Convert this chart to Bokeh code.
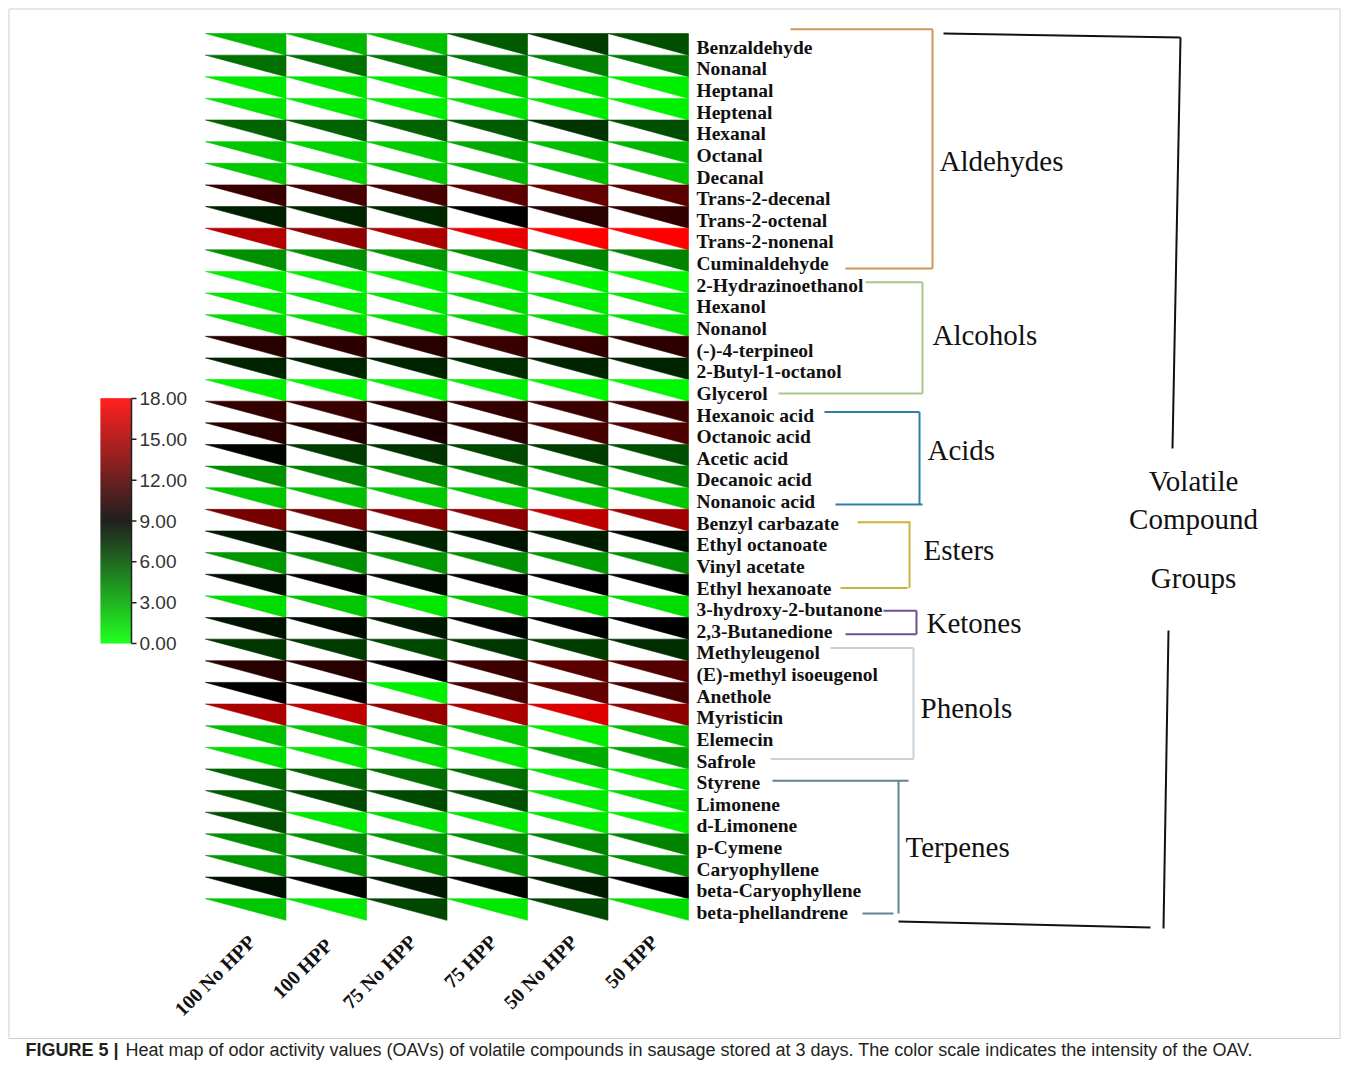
import numpy as np
from bokeh.plotting import figure
from bokeh.models import Range1d, ColumnDataSource, LinearColorMapper
from bokeh.core.properties import value
from bokeh.embed import file_html
from bokeh.resources import INLINE

# ---------------- data ----------------
samples = ["100 No HPP", "100  HPP", "75 No HPP", "75 HPP", "50 No HPP", "50 HPP"]

groups = ["Aldehydes", "Alcohols", "Acids", "Esters", "Ketones", "Phenols", "Terpenes"]

aldehydes = ["Benzaldehyde", "Nonanal", "Heptanal", "Heptenal", "Hexanal", "Octanal",
             "Decanal", "Trans-2-decenal", "Trans-2-octenal", "Trans-2-nonenal", "Cuminaldehyde"]
alcohols = ["2-Hydrazinoethanol", "Hexanol", "Nonanol", "(-)-4-terpineol",
            "2-Butyl-1-octanol", "Glycerol"]
acids = ["Hexanoic acid", "Octanoic acid", "Acetic acid", "Decanoic acid", "Nonanoic acid"]
esters = ["Benzyl carbazate", "Ethyl octanoate", "Vinyl acetate", "Ethyl hexanoate"]
ketones = ["3-hydroxy-2-butanone", "2,3-Butanedione"]
phenols = ["Methyleugenol", "(E)-methyl isoeugenol", "Anethole", "Myristicin",
           "Elemecin", "Safrole"]
terpenes = ["Styrene", "Limonene", "d-Limonene", "p-Cymene", "Caryophyllene",
            "beta-Caryophyllene", "beta-phellandrene"]

oav_aldehydes = [
    [2.6, 2.6, 2.3, 5.8, 6.9, 6.2],
    [5.0, 5.0, 4.8, 4.8, 4.5, 4.8],
    [0.8, 1.0, 0.8, 1.5, 1.2, 0.6],
    [1.0, 0.8, 0.6, 1.0, 0.8, 0.5],
    [5.5, 5.5, 5.5, 5.8, 7.2, 6.2],
    [2.0, 1.6, 1.8, 3.0, 2.3, 2.6],
    [2.0, 1.5, 2.0, 2.5, 2.2, 2.0],
    [11.0, 11.5, 11.5, 12.2, 12.5, 12.2],
    [7.9, 7.8, 7.6, 9.0, 10.4, 10.8],
    [15.3, 14.0, 15.0, 17.1, 18.0, 18.0],
    [4.0, 4.0, 3.7, 4.0, 4.4, 4.4],
]
oav_alcohols = [
    [0.5, 0.5, 0.5, 0.6, 0.5, 0.3],
    [0.8, 0.8, 0.8, 1.2, 0.9, 0.8],
    [1.2, 1.0, 1.0, 1.4, 1.2, 1.0],
    [10.4, 10.6, 10.4, 11.0, 10.8, 10.6],
    [7.8, 7.8, 7.8, 7.4, 7.8, 7.8],
    [0.5, 0.4, 0.5, 0.6, 0.4, 0.3],
]
oav_acids = [
    [10.8, 11.0, 10.4, 10.8, 11.1, 11.1],
    [10.4, 10.2, 9.9, 10.4, 11.5, 11.8],
    [8.8, 6.9, 7.2, 6.5, 6.9, 6.2],
    [4.0, 4.4, 4.0, 4.4, 4.0, 4.4],
    [2.0, 2.3, 2.0, 2.0, 2.3, 2.0],
]
oav_esters = [
    [13.2, 12.9, 13.6, 13.9, 15.7, 14.6],
    [8.1, 8.3, 7.8, 8.3, 8.0, 8.6],
    [3.7, 4.0, 3.7, 4.0, 3.7, 4.0],
    [8.5, 9.2, 8.6, 9.2, 9.0, 9.0],
]
oav_ketones = [
    [1.2, 2.0, 0.9, 2.0, 1.2, 1.2],
    [8.3, 8.6, 8.1, 8.8, 9.0, 9.0],
]
oav_phenols = [
    [7.1, 6.9, 6.5, 7.1, 6.9, 7.4],
    [10.4, 10.4, 9.2, 11.1, 12.2, 12.0],
    [9.0, 9.2, 0.5, 11.5, 12.5, 11.5],
    [15.0, 15.7, 14.3, 15.0, 16.8, 14.0],
    [2.3, 2.0, 2.3, 2.0, 0.7, 2.3],
    [1.2, 0.9, 1.2, 0.9, 3.0, 3.2],
]
oav_terpenes = [
    [5.5, 5.5, 5.1, 5.1, 0.9, 0.9],
    [5.8, 6.5, 6.4, 6.2, 0.9, 1.2],
    [6.2, 0.9, 1.2, 0.9, 0.9, 0.5],
    [4.0, 4.0, 3.7, 4.0, 4.4, 4.4],
    [3.7, 3.7, 3.7, 3.7, 4.4, 4.0],
    [8.5, 8.8, 8.1, 8.8, 8.0, 9.0],
    [2.0, 0.9, 6.5, 0.9, 6.5, 1.2],
]

colorbar_ticks = [0, 3, 6, 9, 12, 15, 18]
oav_low, oav_high = 0, 18

caption_bold = "FIGURE 5 |"
caption_text = ("Heat map of odor activity values (OAVs) of volatile compounds in sausage "
                "stored at 3 days. The color scale indicates the intensity of the OAV.")

group_members = [aldehydes, alcohols, acids, esters, ketones, phenols, terpenes]
group_values = [oav_aldehydes, oav_alcohols, oav_acids, oav_esters, oav_ketones,
                oav_phenols, oav_terpenes]

# ---------------- layout / style ----------------
W, H = 1341, 1060
GRID_L, GRID_T = 205.0, 33.0
CELL_W, CELL_H = 80.5, 21.63
LABEL_X = 696
CB_L, CB_R, CB_TOP, CB_BOT = 100, 131, 398, 643

SERIF = value("Liberation Serif")
SANS = value("Liberation Sans")

bracket_style = {
    "Aldehydes": dict(vx=932, tx=790, bx=845, te=932, be=932, tpad=18, bpad=5,
                      color="#D4945C", lx=939, ly=160),
    "Alcohols": dict(vx=922, tx=865, bx=778, te=922, be=922, tpad=3, bpad=0,
                     color="#A9C58C", lx=932, ly=334),
    "Acids": dict(vx=919, tx=824, bx=835, te=919, be=922, tpad=3, bpad=3,
                  color="#2F7EA5", lx=927, ly=449),
    "Esters": dict(vx=909, tx=857, bx=840, te=910, be=907, tpad=1, bpad=0,
                   color="#C8B43A", lx=923, ly=549),
    "Ketones": dict(vx=916, tx=883, bx=845, te=916, be=916, tpad=-1, bpad=3,
                    color="#6C4F8F", lx=926, ly=622),
    "Phenols": dict(vx=913, tx=830, bx=770, te=913, be=913, tpad=5, bpad=-2,
                    color="#C6D1DB", lx=920, ly=707),
    "Terpenes": dict(vx=898, tx=772, bx=862, te=908, be=893, tpad=2, bpad=1,
                     color="#5E8594", lx=905, ly=846),
}


def make_palette(n=256):
    pal = []
    for k in range(n):
        t = k / (n - 1)
        if t < 0.5:
            pal.append("#%02x%02x%02x" % (0, int(round(255 * (1 - 2 * t))), 0))
        else:
            pal.append("#%02x%02x%02x" % (int(round(255 * (2 * t - 1))), 0, 0))
    return pal


mapper = LinearColorMapper(palette=make_palette(), low=oav_low, high=oav_high)

p = figure(width=W, height=H, x_range=Range1d(0, W), y_range=Range1d(H, 0),
           output_backend="svg", toolbar_location=None, min_border=0,
           x_axis_location=None, y_axis_location=None)
p.grid.visible = False
p.outline_line_color = None
p.background_fill_color = "white"

# frame
p.quad(left=[8.5], right=[1339.5], top=[8.5], bottom=[1038], fill_color=None,
       line_color="#cfcfcf", line_width=1)

# ---------------- heat map triangles ----------------
compounds, values = [], []
for names, vals in zip(group_members, group_values):
    compounds += names
    values += vals

xs, ys, vs = [], [], []
for j, row in enumerate(values):
    y0 = GRID_T + j * CELL_H
    y1 = y0 + CELL_H
    for i, v in enumerate(row):
        x0 = GRID_L + i * CELL_W
        x1 = x0 + CELL_W
        xs.append([x0, x1, x1])
        ys.append([y0, y0, y1])
        vs.append(v)
tri_src = ColumnDataSource(dict(xs=xs, ys=ys, v=vs))
p.patches("xs", "ys", source=tri_src,
          fill_color={"field": "v", "transform": mapper},
          line_color={"field": "v", "transform": mapper}, line_width=0.6)

# compound labels
row_centers = [GRID_T + (j + 0.5) * CELL_H + 3 for j in range(len(compounds))]
p.text(x=[LABEL_X] * len(compounds), y=row_centers, text=compounds,
       text_font=SERIF, text_font_style="bold", text_font_size="19.5px",
       text_align="left", text_baseline="middle", text_color="#111111")

# sample labels (rotated)
col_centers = [GRID_L + (i + 0.5) * CELL_W + 6 for i in range(len(samples))]
p.text(x=col_centers, y=[938] * len(samples), text=samples, angle=np.pi / 4,
       text_font=SERIF, text_font_style="bold", text_font_size="20px",
       text_align="right", text_baseline="middle", text_color="#111111")

# ---------------- group brackets ----------------
start = 0
for g, names in zip(groups, group_members):
    s = bracket_style[g]
    ytop = row_centers[start] - s["tpad"]
    ybot = row_centers[start + len(names) - 1] + s["bpad"]
    p.line([s["tx"], s["te"]], [ytop, ytop], line_color=s["color"], line_width=2)
    p.line([s["vx"], s["vx"]], [ytop, ybot], line_color=s["color"], line_width=2)
    p.line([s["bx"], s["be"]], [ybot, ybot], line_color=s["color"], line_width=2)
    p.text(x=[s["lx"]], y=[s["ly"]], text=[g], text_font=SERIF, text_font_size="29px",
           text_align="left", text_baseline="middle", text_color="#111111")
    start += len(names)

# big bracket
p.line([943, 1180], [33, 37], line_color="#111111", line_width=2)
p.line([1180, 1172], [37, 448], line_color="#111111", line_width=2)
p.line([1168, 1163], [630, 928], line_color="#111111", line_width=2)
p.line([898, 1150], [921, 927], line_color="#111111", line_width=2)
p.text(x=[1193, 1193, 1193], y=[480, 518, 577], text=["Volatile", "Compound", "Groups"],
       text_font=SERIF, text_font_size="29px", text_align="center",
       text_baseline="middle", text_color="#111111")

# ---------------- color bar ----------------
n_steps = 245
step = (CB_BOT - CB_TOP) / n_steps
cb_vals = [oav_low + (oav_high - oav_low) * (k + 0.5) / n_steps for k in range(n_steps)]
cb_src = ColumnDataSource(dict(
    bottom=[CB_BOT - k * step for k in range(n_steps)],
    top=[CB_BOT - (k + 1) * step - 0.3 for k in range(n_steps)],
    v=cb_vals))
p.quad(left=CB_L, right=CB_R, top="top", bottom="bottom", source=cb_src,
       fill_color={"field": "v", "transform": mapper}, line_color=None)
tick_y = [CB_BOT - (t - oav_low) / (oav_high - oav_low) * (CB_BOT - CB_TOP)
          for t in colorbar_ticks]
p.line([CB_R, CB_R], [CB_TOP, CB_BOT], line_color="#222222", line_width=1.5)
p.segment(x0=[CB_R] * len(tick_y), x1=[CB_R + 5] * len(tick_y), y0=tick_y, y1=tick_y,
          line_color="#222222", line_width=1.5)
p.text(x=[CB_R + 8] * len(tick_y), y=tick_y, text=["%.2f" % t for t in colorbar_ticks],
       text_font=SANS, text_font_size="19px", text_align="left",
       text_baseline="middle", text_color="#333333")

# ---------------- caption ----------------
p.text(x=[25], y=[1049], text=[caption_bold], text_font=SANS, text_font_style="bold",
       text_font_size="18px", text_align="left", text_baseline="middle",
       text_color="#231f20")
p.text(x=[125], y=[1049], text=[caption_text], text_font=SANS, text_font_size="18px",
       text_align="left", text_baseline="middle", text_color="#231f20")

open("out.html", "w").write(file_html(p, INLINE))
